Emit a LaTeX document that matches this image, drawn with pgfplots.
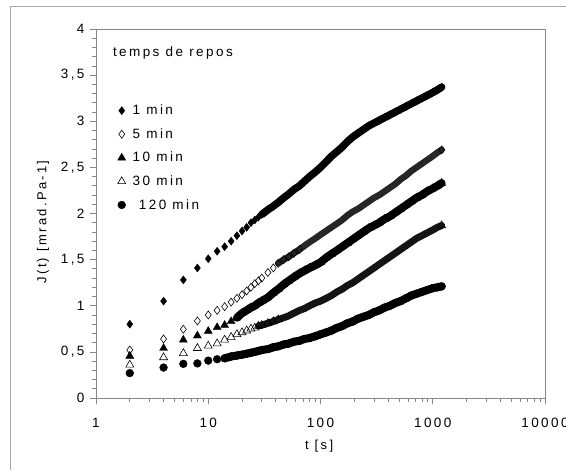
\documentclass[border=0pt]{standalone}
\usepackage{fontspec}
\setmainfont{Liberation Sans}
\newfontfamily\xl{Liberation Sans}[LetterSpace=18.0]
\usepackage{pgfplots}
\usepackage{pgfplotstable}
\pgfplotsset{compat=1.18}
\definecolor{axisgray}{HTML}{868686}
\definecolor{framegray}{HTML}{A6A6A6}

% J(t) readings, creep after different rest times
\pgfplotstableread{
t     m1    m5     m10    m30    m120
2     0.80  0.52   0.455  0.36   0.27
4     1.05  0.64   0.54   0.44   0.33
6     1.28  0.745  0.63   0.485  0.37
8     1.41  0.835  0.675  0.54   0.375
10    1.51  0.90   0.725  0.565  0.405
12    1.59  0.95   0.765  0.59   0.42
14    1.64  0.99   0.79   0.63   0.43
16    1.70  1.04   0.83   0.66   0.45
18    1.76  1.08   0.87   0.69   0.46
20    1.81  1.12   0.92   0.71   0.47
22    1.85  1.16   0.95   0.73   0.48
24    1.90  1.20   0.98   0.75   0.49
26    1.93  1.24   1.00   0.76   0.50
28    1.96  1.27   1.03   0.78   0.51
30    1.99  1.30   1.05   0.79   0.52
34    2.04  1.36   1.09   0.81   0.53
38    2.08  1.41   1.14   0.83   0.55
42    2.12  1.46   1.18   0.85   0.56
47    2.17  1.50   1.23   0.87   0.58
52    2.21  1.53   1.27   0.89   0.59
58    2.26  1.57   1.31   0.92   0.61
65    2.30  1.61   1.35   0.95   0.62
72    2.35  1.65   1.38   0.97   0.64
80    2.40  1.69   1.41   1.00   0.65
90    2.45  1.73   1.44   1.03   0.67
100   2.50  1.77   1.47   1.05   0.69
112   2.56  1.81   1.52   1.08   0.71
125   2.62  1.85   1.56   1.11   0.73
140   2.67  1.89   1.60   1.15   0.76
156   2.72  1.93   1.64   1.18   0.78
174   2.78  1.98   1.68   1.22   0.81
194   2.83  2.02   1.72   1.25   0.83
216   2.87  2.05   1.76   1.29   0.86
241   2.91  2.09   1.80   1.33   0.88
269   2.95  2.13   1.84   1.37   0.90
300   2.98  2.17   1.87   1.41   0.93
334   3.01  2.20   1.90   1.45   0.95
373   3.04  2.24   1.94   1.49   0.98
416   3.07  2.28   1.97   1.53   1.00
464   3.10  2.32   2.01   1.57   1.03
517   3.13  2.37   2.05   1.61   1.05
577   3.16  2.41   2.09   1.65   1.08
643   3.19  2.46   2.13   1.69   1.11
717   3.22  2.50   2.17   1.73   1.13
800   3.25  2.54   2.20   1.76   1.15
892   3.28  2.58   2.24   1.79   1.17
995   3.31  2.62   2.27   1.82   1.19
1100  3.34  2.66   2.30   1.85   1.20
1200  3.37  2.69   2.33   1.87   1.21
}\creep

\begin{document}
\begin{tikzpicture}
\path[use as bounding box] (0,0) rectangle (566pt,470pt);
\draw[framegray, line width=0.8pt] (10pt,-20pt) rectangle (600pt,464pt);
\begin{axis}[
    at={(96pt,72pt)}, anchor=south west,
    scale only axis,
    width=449pt, height=369pt,
    xmode=log,
    xmin=1, xmax=10000,
    ymin=0, ymax=4,
    xtick={1,10,100,1000,10000},
    xticklabels={1,10,100,1000,10000},
    ytick={0,0.5,1,1.5,2,2.5,3,3.5,4},
    yticklabels={0,{0,5},1,{1,5},2,{2,5},3,{3,5},4},
    minor y tick num=4,
    tick pos=left,
    tick align=outside,
    major tick length=6pt,
    minor tick length=4pt,
    every tick/.style={axisgray, line width=0.7pt},
    axis line style={axisgray, line width=0.8pt},
    /pgf/number format/assume math mode=true,
    tick label style={font=\xl\fontsize{13.5}{16}\selectfont, black},
    xticklabel style={yshift=-11pt},
    yticklabel style={xshift=-2pt},
    xlabel={t [s]},
    ylabel={J(t) [mrad.Pa-1]},
    label style={font=\xl\fontsize{13}{15}\selectfont},
    xlabel style={at={(axis description cs:0.497,-0.13)}, anchor=center},
    ylabel style={at={(axis description cs:-0.118,0.477)}, anchor=center},
    legend image code/.code={\draw plot coordinates {(0.1cm,0cm)};},
    legend style={at={(axis description cs:0.048,0.80)}, anchor=north west,
        draw=none, fill=none, font=\xl\fontsize{13.5}{16}\selectfont,
        row sep=8.3pt, inner sep=0pt,
        /tikz/every odd column/.append style={column sep=5pt}},
    legend cell align=left,
]
% thick bands where the readings are too close to tell apart
\addplot[black, line width=7.5pt, line cap=round, line join=round, skip coords between index={0}{14}, forget plot] table[x=t, y=m1] {\creep};
\addplot[black!85, line width=6.5pt, line cap=round, line join=round, skip coords between index={0}{17}, forget plot] table[x=t, y=m5] {\creep};
\addplot[black, line width=8pt, line cap=round, line join=round, skip coords between index={0}{8}, forget plot] table[x=t, y=m10] {\creep};
\addplot[black!92, line width=7pt, line cap=round, line join=round, skip coords between index={0}{13}, forget plot] table[x=t, y=m30] {\creep};
\addplot[black, line width=8pt, line cap=round, line join=round, skip coords between index={0}{6}, forget plot] table[x=t, y=m120] {\creep};
% markers
\addplot[only marks, mark=diamond*, mark size=4pt, black] table[x=t, y=m1] {\creep};
\addlegendentry{1 min}
\addplot[only marks, mark=diamond, mark size=4pt, black, mark options={line width=0.6pt, fill=white}, skip coords between index={22}{48}] table[x=t, y=m5] {\creep};
\addlegendentry{5 min}
\addplot[only marks, mark=triangle*, mark size=4.6pt, black] table[x=t, y=m10] {\creep};
\addlegendentry{10 min}
\addplot[only marks, mark=triangle, mark size=4.6pt, black, mark options={line width=0.6pt, fill=white}, skip coords between index={18}{48}] table[x=t, y=m30] {\creep};
\addlegendentry{30 min}
\addplot[only marks, mark=*, mark size=3.9pt, black] table[x=t, y=m120] {\creep};
\addlegendentry{\ 120 min}
\node[anchor=west, font=\xl\fontsize{13.5}{16}\selectfont] at (axis description cs:0.03,0.935) {temps de repos};
\end{axis}
\end{tikzpicture}
\end{document}
